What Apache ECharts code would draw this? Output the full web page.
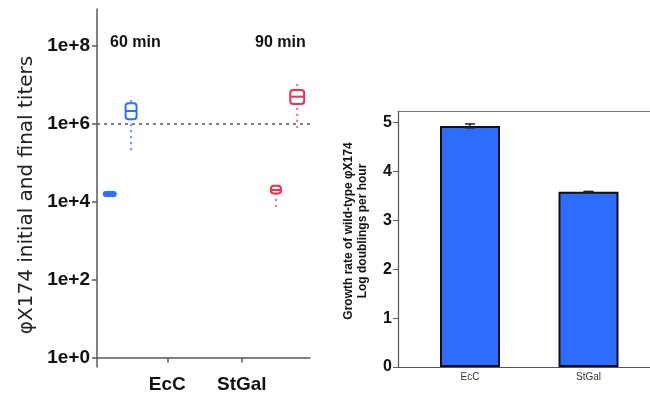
<!DOCTYPE html>
<html>
<head>
<meta charset="utf-8">
<script src="https://cdn.jsdelivr.net/npm/echarts@6/dist/echarts.min.js"></script>
<style>
  html, body { margin: 0; padding: 0; background: #fff; }
  #chart { width: 650px; height: 400px; }
</style>
</head>
<body>
<div id="chart"></div>
<script>
// ---- Titer data (PFU/ml): [low whisker, Q1, median, Q3, high whisker] ----
const titerGroupNames = ['EcC', 'StGal'];
const timeLabels = ['60 min', '90 min'];
const ecInitial = [1.36e4, 1.41e4, 1.58e4, 1.78e4, 1.84e4];
const ecFinal = [2.1e5, 1.31e6, 2.14e6, 3.37e6, 5.2e6];
const stInitial = [7.3e3, 1.62e4, 2.0e4, 2.57e4, 3.0e4];
const stFinal = [7.8e5, 3.24e6, 5.0e6, 7.4e6, 1.05e7];
const referenceTiter = 1e6;
const titerTicks = [1, 1e2, 1e4, 1e6, 1e8];

// ---- Growth rate data (log doublings per hour) ----
const rateCategories = ['EcC', 'StGal'];
const growthRates = [4.935, 3.585];
const rateErrors = [0.04, 0.01];
const rateTicks = [0, 1, 2, 3, 4, 5];

// ---- Layout / style ----
const BLUE = '#2f6fff';
const RED = '#f0304d';
const BLUE_DOTS = '#6f9bff';
const RED_DOTS = '#f47a8d';
const AXIS_GREY = '#5a5a5a';
const FONT = 'Liberation Sans, Arial, sans-serif';

// horizontal slots on the left panel's x scale (0..10)
const boxSlots = [0.6, 1.6, 8.4, 9.4];
const groupLabelSlots = [3.3, 6.8];
const boxWidths = [12, 11, 10, 14];
const boxColors = [BLUE, BLUE, RED, RED];
const dotColors = [BLUE_DOTS, BLUE_DOTS, RED_DOTS, RED_DOTS];

const boxes = [ecInitial, ecFinal, stInitial, stFinal];
const boxData = boxes.map((b, i) => [boxSlots[i]].concat(b.map(v => Math.log10(v))));

function renderBox(params, api) {
  const i = params.dataIndex;
  const x = api.value(0);
  const pLow = api.coord([x, api.value(1)]);
  const pQ1 = api.coord([x, api.value(2)]);
  const pMed = api.coord([x, api.value(3)]);
  const pQ3 = api.coord([x, api.value(4)]);
  const pHigh = api.coord([x, api.value(5)]);
  const cx = pMed[0];
  const w = boxWidths[i];
  return {
    type: 'group',
    children: [
      {
        type: 'line',
        shape: { x1: cx, y1: pLow[1], x2: cx, y2: pHigh[1] },
        style: { stroke: dotColors[i], lineWidth: 2.2, lineDash: [2.2, 3.8] }
      },
      {
        type: 'rect',
        shape: { x: cx - w / 2, y: pQ3[1], width: w, height: Math.max(pQ1[1] - pQ3[1], 1), r: 3 },
        style: { fill: '#fff', stroke: boxColors[i], lineWidth: 2 }
      },
      {
        type: 'line',
        shape: { x1: cx - w / 2, y1: pMed[1], x2: cx + w / 2, y2: pMed[1] },
        style: { stroke: boxColors[i], lineWidth: 2 }
      }
    ]
  };
}

const barData = growthRates.map((v, i) => [i + 1, v]);
const errData = growthRates.map((v, i) => [i + 1, v - rateErrors[i], v + rateErrors[i]]);

function renderErr(params, api) {
  const x = api.value(0);
  const lo = api.coord([x, api.value(1)]);
  const hi = api.coord([x, api.value(2)]);
  const cap = 5;
  const st = { stroke: '#222', lineWidth: 1.5 };
  return {
    type: 'group',
    children: [
      { type: 'line', shape: { x1: lo[0], y1: lo[1], x2: hi[0], y2: hi[1] }, style: st },
      { type: 'line', shape: { x1: lo[0] - cap, y1: lo[1], x2: lo[0] + cap, y2: lo[1] }, style: st },
      { type: 'line', shape: { x1: hi[0] - cap, y1: hi[1], x2: hi[0] + cap, y2: hi[1] }, style: st }
    ]
  };
}

const chart = echarts.init(document.getElementById('chart'), null, { renderer: 'canvas' });

chart.setOption({
  animation: false,
  backgroundColor: '#fff',
  textStyle: { fontFamily: FONT },
  grid: [
    { left: 97, top: 9, width: 213, height: 358 },
    { left: 398, top: 111, right: 0, height: 256 }
  ],
  xAxis: [
    {
      gridIndex: 0, type: 'value', min: 0, max: 10,
      splitLine: { show: false },
      axisLine: { show: true, lineStyle: { color: AXIS_GREY, width: 1.5 } },
      axisTick: { show: true, length: 5, customValues: groupLabelSlots, lineStyle: { color: AXIS_GREY, width: 1.5 } },
      axisLabel: {
        customValues: groupLabelSlots,
        formatter: v => titerGroupNames[groupLabelSlots.indexOf(v)] || '',
        fontSize: 19, fontWeight: 'bold', color: '#111', margin: 8
      }
    },
    {
      gridIndex: 1, type: 'value', min: 0.3924, max: 2.519,
      splitLine: { show: false },
      axisLine: { show: true, lineStyle: { color: '#555', width: 1.2 } },
      axisTick: { show: false },
      axisLabel: {
        customValues: [1, 2],
        formatter: v => rateCategories[v - 1] || '',
        fontSize: 10, color: '#333', margin: 5
      }
    },
    {
      // top frame line of the growth-rate panel
      gridIndex: 1, type: 'value', position: 'top', min: 0.3924, max: 2.519,
      splitLine: { show: false },
      axisLine: { show: true, onZero: false, lineStyle: { color: '#777', width: 1 } },
      axisTick: { show: false },
      axisLabel: { show: false }
    }
  ],
  yAxis: [
    {
      gridIndex: 0, type: 'value', min: -0.244, max: 8.95,
      splitLine: { show: false },
      axisLine: { show: true, lineStyle: { color: AXIS_GREY, width: 1.5 } },
      axisTick: { show: true, length: 5, customValues: titerTicks.map(v => Math.log10(v)), lineStyle: { color: AXIS_GREY, width: 1.5 } },
      axisLabel: {
        customValues: titerTicks.map(v => Math.log10(v)),
        formatter: v => '1e+' + Math.round(v),
        fontSize: 19, fontWeight: 'bold', color: '#111', margin: 7
      }
    },
    {
      gridIndex: 1, type: 'value', min: 0, max: 5.24,
      splitLine: { show: false },
      axisLine: { show: true, lineStyle: { color: '#555', width: 1.2 } },
      axisTick: { show: true, length: 5, customValues: rateTicks, lineStyle: { color: AXIS_GREY } },
      axisLabel: {
        customValues: rateTicks,
        fontSize: 16, fontWeight: 'bold', color: '#111', margin: 6
      }
    }
  ],
  series: [
    {
      type: 'custom',
      xAxisIndex: 0, yAxisIndex: 0,
      renderItem: renderBox,
      data: boxData,
      encode: { x: 0, y: [1, 2, 3, 4, 5] },
      z: 3,
      markLine: {
        silent: true,
        symbol: 'none',
        label: { show: false },
        lineStyle: { color: '#555', width: 1.5, type: [3, 4] },
        data: [{ yAxis: Math.log10(referenceTiter) }],
        z: 2
      }
    },
    {
      type: 'bar',
      xAxisIndex: 1, yAxisIndex: 1,
      data: barData,
      barWidth: 60,
      itemStyle: { color: '#2e6bff', borderColor: '#111', borderWidth: 2 }
    },
    {
      type: 'custom',
      xAxisIndex: 1, yAxisIndex: 1,
      renderItem: renderErr,
      data: errData,
      encode: { x: 0, y: [1, 2] },
      z: 5
    }
  ],
  graphic: [
    {
      type: 'text', left: 110, top: 35,
      style: { text: timeLabels[0], font: 'bold 16px ' + FONT, fill: '#111' }
    },
    {
      type: 'text', left: 255, top: 35,
      style: { text: timeLabels[1], font: 'bold 16px ' + FONT, fill: '#111' }
    },
    {
      type: 'text', x: 27, y: 195, rotation: Math.PI / 2,
      style: {
        text: 'φX174 initial and final titers',
        font: '20px DejaVu Sans, sans-serif', fill: '#222', align: 'center', verticalAlign: 'middle'
      }
    },
    {
      type: 'text', x: 356, y: 231, rotation: Math.PI / 2,
      style: {
        text: 'Growth rate of wild-type φX174\nLog doublings per hour',
        font: 'bold 12px ' + FONT, fill: '#111', align: 'center', verticalAlign: 'middle', lineHeight: 14
      }
    }
  ]
});
</script>
</body>
</html>
